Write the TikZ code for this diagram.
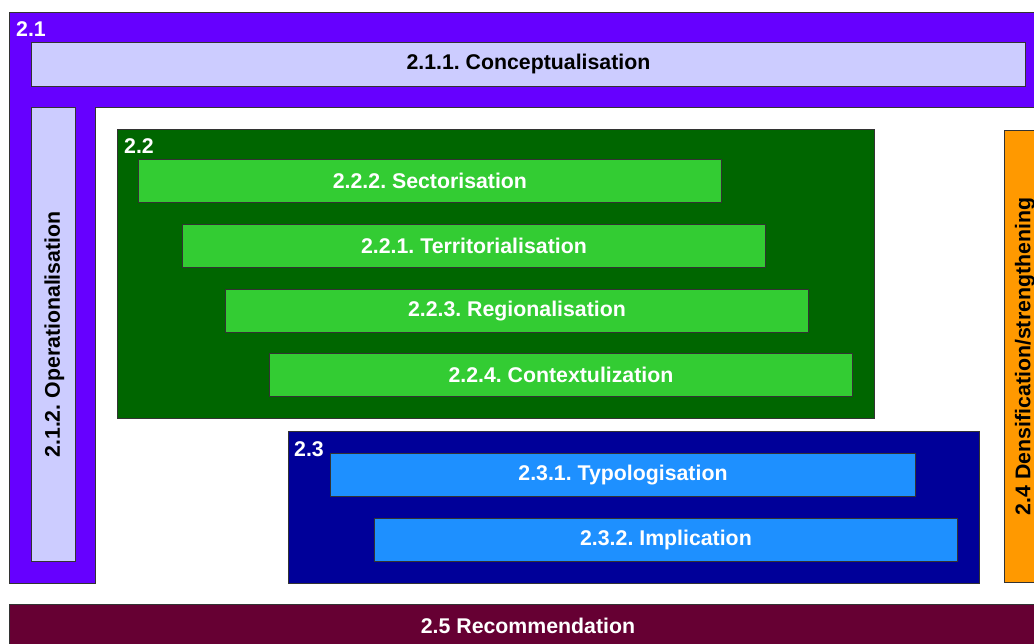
\documentclass[tikz,border=0pt]{standalone}
\usepackage{fontspec}
\setmainfont{Liberation Sans}
\frenchspacing
\definecolor{cpurple}{HTML}{6600FF}
\definecolor{clav}{HTML}{CCCCFF}
\definecolor{cdgreen}{HTML}{006600}
\definecolor{cgreen}{HTML}{33CC33}
\definecolor{cnavy}{HTML}{000099}
\definecolor{cblue}{HTML}{1E90FF}
\definecolor{corange}{HTML}{FF9900}
\definecolor{cmaroon}{HTML}{660033}
\begin{document}
\frenchspacing
\begin{tikzpicture}[x=1pt,y=-1pt,
  txt/.style={font=\fontsize{21.3}{24}\selectfont\bfseries},
  box/.style={draw=black!80,line width=0.9pt,anchor=north west,inner sep=0pt,txt},
  lab/.style={anchor=north west,inner sep=0pt,text=white,font=\fontsize{21.3}{24}\selectfont\bfseries}]
\useasboundingbox (0,0) rectangle (1034,643);
\fill[white] (0,0) rectangle (1034,643);
% 2.1 purple L-shape
\draw[fill=cpurple,draw=black!80,line width=0.9pt] (9,12) -- (1050,12) -- (1050,107) -- (95,107) -- (95,583) -- (9,583) -- cycle;
\node[lab] (l21) at (16,21) {2.1};
\node[box,fill=clav,minimum width=994pt,minimum height=44pt] (c211) at (31,42) {2.1.1. Conceptualisation};
\node[box,fill=clav,minimum width=44pt,minimum height=454pt] (c212) at (31,107) {};
\node[txt,rotate=90] (t212) at ([xshift=1pt]c212.center) {2.1.2. Operationalisation};
% 2.2 green
\node[box,fill=cdgreen,minimum width=757pt,minimum height=289pt] (c22) at (117,129) {};
\node[lab] (l22) at (124,138) {2.2};
\node[box,fill=cgreen,text=white,minimum width=583pt,minimum height=43pt] (c222) at (138,159) {2.2.2. Sectorisation};
\node[box,fill=cgreen,text=white,minimum width=583pt,minimum height=43pt] (c221) at (182,224) {2.2.1. Territorialisation};
\node[box,fill=cgreen,text=white,minimum width=583pt,minimum height=43pt] (c223) at (225,289) {2.2.3. Regionalisation};
\node[box,fill=cgreen,text=white,minimum width=583pt,minimum height=43pt] (c224) at (269,353) {2.2.4. Contextulization};
% 2.3 navy
\node[box,fill=cnavy,minimum width=691pt,minimum height=152pt] (c23) at (288,431) {};
\node[lab] (l23) at (294,441) {2.3};
\node[box,fill=cblue,text=white,minimum width=585pt,minimum height=43pt] (c231) at (330,453) {2.3.1. Typologisation};
\node[box,fill=cblue,text=white,minimum width=583pt,minimum height=43pt] (c232) at (374,518) {2.3.2. Implication};
% 2.4 orange
\node[box,fill=corange,minimum width=44pt,minimum height=452pt] (c24) at (1004,130) {};
\node[txt,rotate=90] (t24) at ([xshift=-1.5pt]c24.center) {2.4 Densification/strengthening};
% 2.5 maroon
\node[box,fill=cmaroon,text=white,minimum width=1038pt,minimum height=45pt] (c25) at (9,604) {};
\node[txt,text=white] (t25) at (528,626) {2.5 Recommendation};
\end{tikzpicture}
\end{document}
